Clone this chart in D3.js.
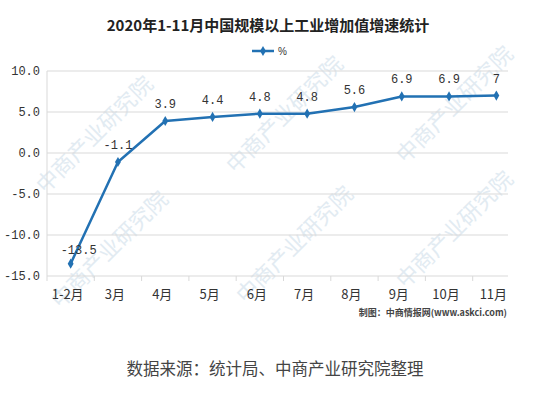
<!DOCTYPE html>
<html><head><meta charset="utf-8">
<script src="https://cdn.jsdelivr.net/npm/d3@7/dist/d3.min.js"></script>
<style>body{margin:0;background:#fff}svg{display:block}</style>
</head><body><svg id="c" width="536" height="393"></svg>
<script>
const categories = ["1-2月","3月","4月","5月","6月","7月","8月","9月","10月","11月"];
const values = [-13.5,-1.1,3.9,4.4,4.8,4.8,5.6,6.9,6.9,7];
const valueLabels = ["-13.5","-1.1","3.9","4.4","4.8","4.8","5.6","6.9","6.9","7"];
const yTicks = [10,5,0,-5,-10,-15];
const title = "2020年1-11月中国规模以上工业增加值增速统计";
const legendLabel = "%";
const credit = "制图：中商情报网(www.askci.com)";
const source = "数据来源：统计局、中商产业研究院整理";

const svg = d3.select("#c");
const color = "#2271b3";
const x = d3.scaleBand().domain(categories).range([47, 520]);
const y = d3.scaleLinear().domain([-15, 10]).range([276, 71]);

// watermarks
const wm = [[100,140],[115,255],[290,120],[300,250],[460,110],[460,235]];
wm.forEach(([cx,cy])=>{
  svg.append("text").attr("transform",`translate(${cx},${cy}) rotate(-45)`)
    .attr("text-anchor","middle").attr("font-family","Noto Sans CJK SC").attr("font-size",22)
    .attr("fill","#e2ebf2").text("中商产业研究院");
});

// gridlines
svg.append("g").selectAll("line").data(yTicks).join("line")
  .attr("x1",47).attr("x2",508).attr("y1",d=>y(d)).attr("y2",d=>y(d))
  .attr("stroke","#d9d9d9").attr("stroke-width",1);
svg.append("line").attr("x1",47).attr("x2",47).attr("y1",71).attr("y2",276).attr("stroke","#d9d9d9");

// y labels
svg.append("g").selectAll("text").data(yTicks).join("text")
  .attr("x",40).attr("y",d=>y(d)+4).attr("text-anchor","end")
  .attr("font-family","Liberation Mono").attr("font-size",12).attr("fill","#333")
  .text(d=>d.toFixed(1));

// x axis
const xa = svg.append("g").attr("transform","translate(0,276)")
  .call(d3.axisBottom(x).tickSize(0).tickPadding(14));
xa.select(".domain").remove();
xa.selectAll("text").attr("font-family","Noto Sans CJK SC").attr("font-size",13).attr("fill","#333")
  .attr("dx",-3);
svg.append("g").selectAll("line").data(categories).join("line")
  .attr("x1",d=>x(d)).attr("x2",d=>x(d)).attr("y1",276).attr("y2",281).attr("stroke","#d9d9d9");

// line
const line = d3.line().x((d,i)=>x(categories[i])+x.bandwidth()/2).y(d=>y(d));
svg.append("path").datum(values).attr("d",line).attr("fill","none")
  .attr("stroke",color).attr("stroke-width",2.5).attr("stroke-linejoin","round");
const sym = d3.symbol().type(d3.symbolDiamond).size(30);
svg.append("g").selectAll("path").data(values).join("path")
  .attr("transform",(d,i)=>`translate(${x(categories[i])+x.bandwidth()/2},${y(d)})`)
  .attr("d",sym).attr("fill",color);

// value labels
svg.append("g").selectAll("text").data(values).join("text")
  .attr("x",(d,i)=>x(categories[i])+x.bandwidth()/2+(i===0?8:0))
  .attr("y",(d,i)=>y(d)-(i===0?10:13))
  .attr("text-anchor","middle").attr("font-family","Liberation Mono").attr("font-size",12).attr("fill","#333")
  .text((d,i)=>valueLabels[i]);

// title
svg.append("text").attr("x",268).attr("y",31).attr("text-anchor","middle")
  .attr("font-family","Noto Sans CJK SC").attr("font-weight","bold").attr("font-size",15).attr("fill","#222")
  .text(title);

// legend
svg.append("line").attr("x1",252).attr("x2",274).attr("y1",51).attr("y2",51).attr("stroke",color).attr("stroke-width",2.5);
svg.append("path").attr("transform","translate(263,51)").attr("d",sym).attr("fill",color);
svg.append("text").attr("x",278).attr("y",55).attr("font-family","Liberation Sans").attr("font-size",10).attr("fill","#333").text(legendLabel);

// credit
svg.append("text").attr("x",507).attr("y",316).attr("text-anchor","end")
  .attr("font-family","Noto Sans CJK SC").attr("font-size",9).attr("font-weight","bold").attr("fill","#444").text(credit);

// source
svg.append("text").attr("x",275).attr("y",375).attr("text-anchor","middle")
  .attr("font-family","Noto Sans CJK SC").attr("font-size",16.5).attr("fill","#444").text(source);
</script></body></html>
